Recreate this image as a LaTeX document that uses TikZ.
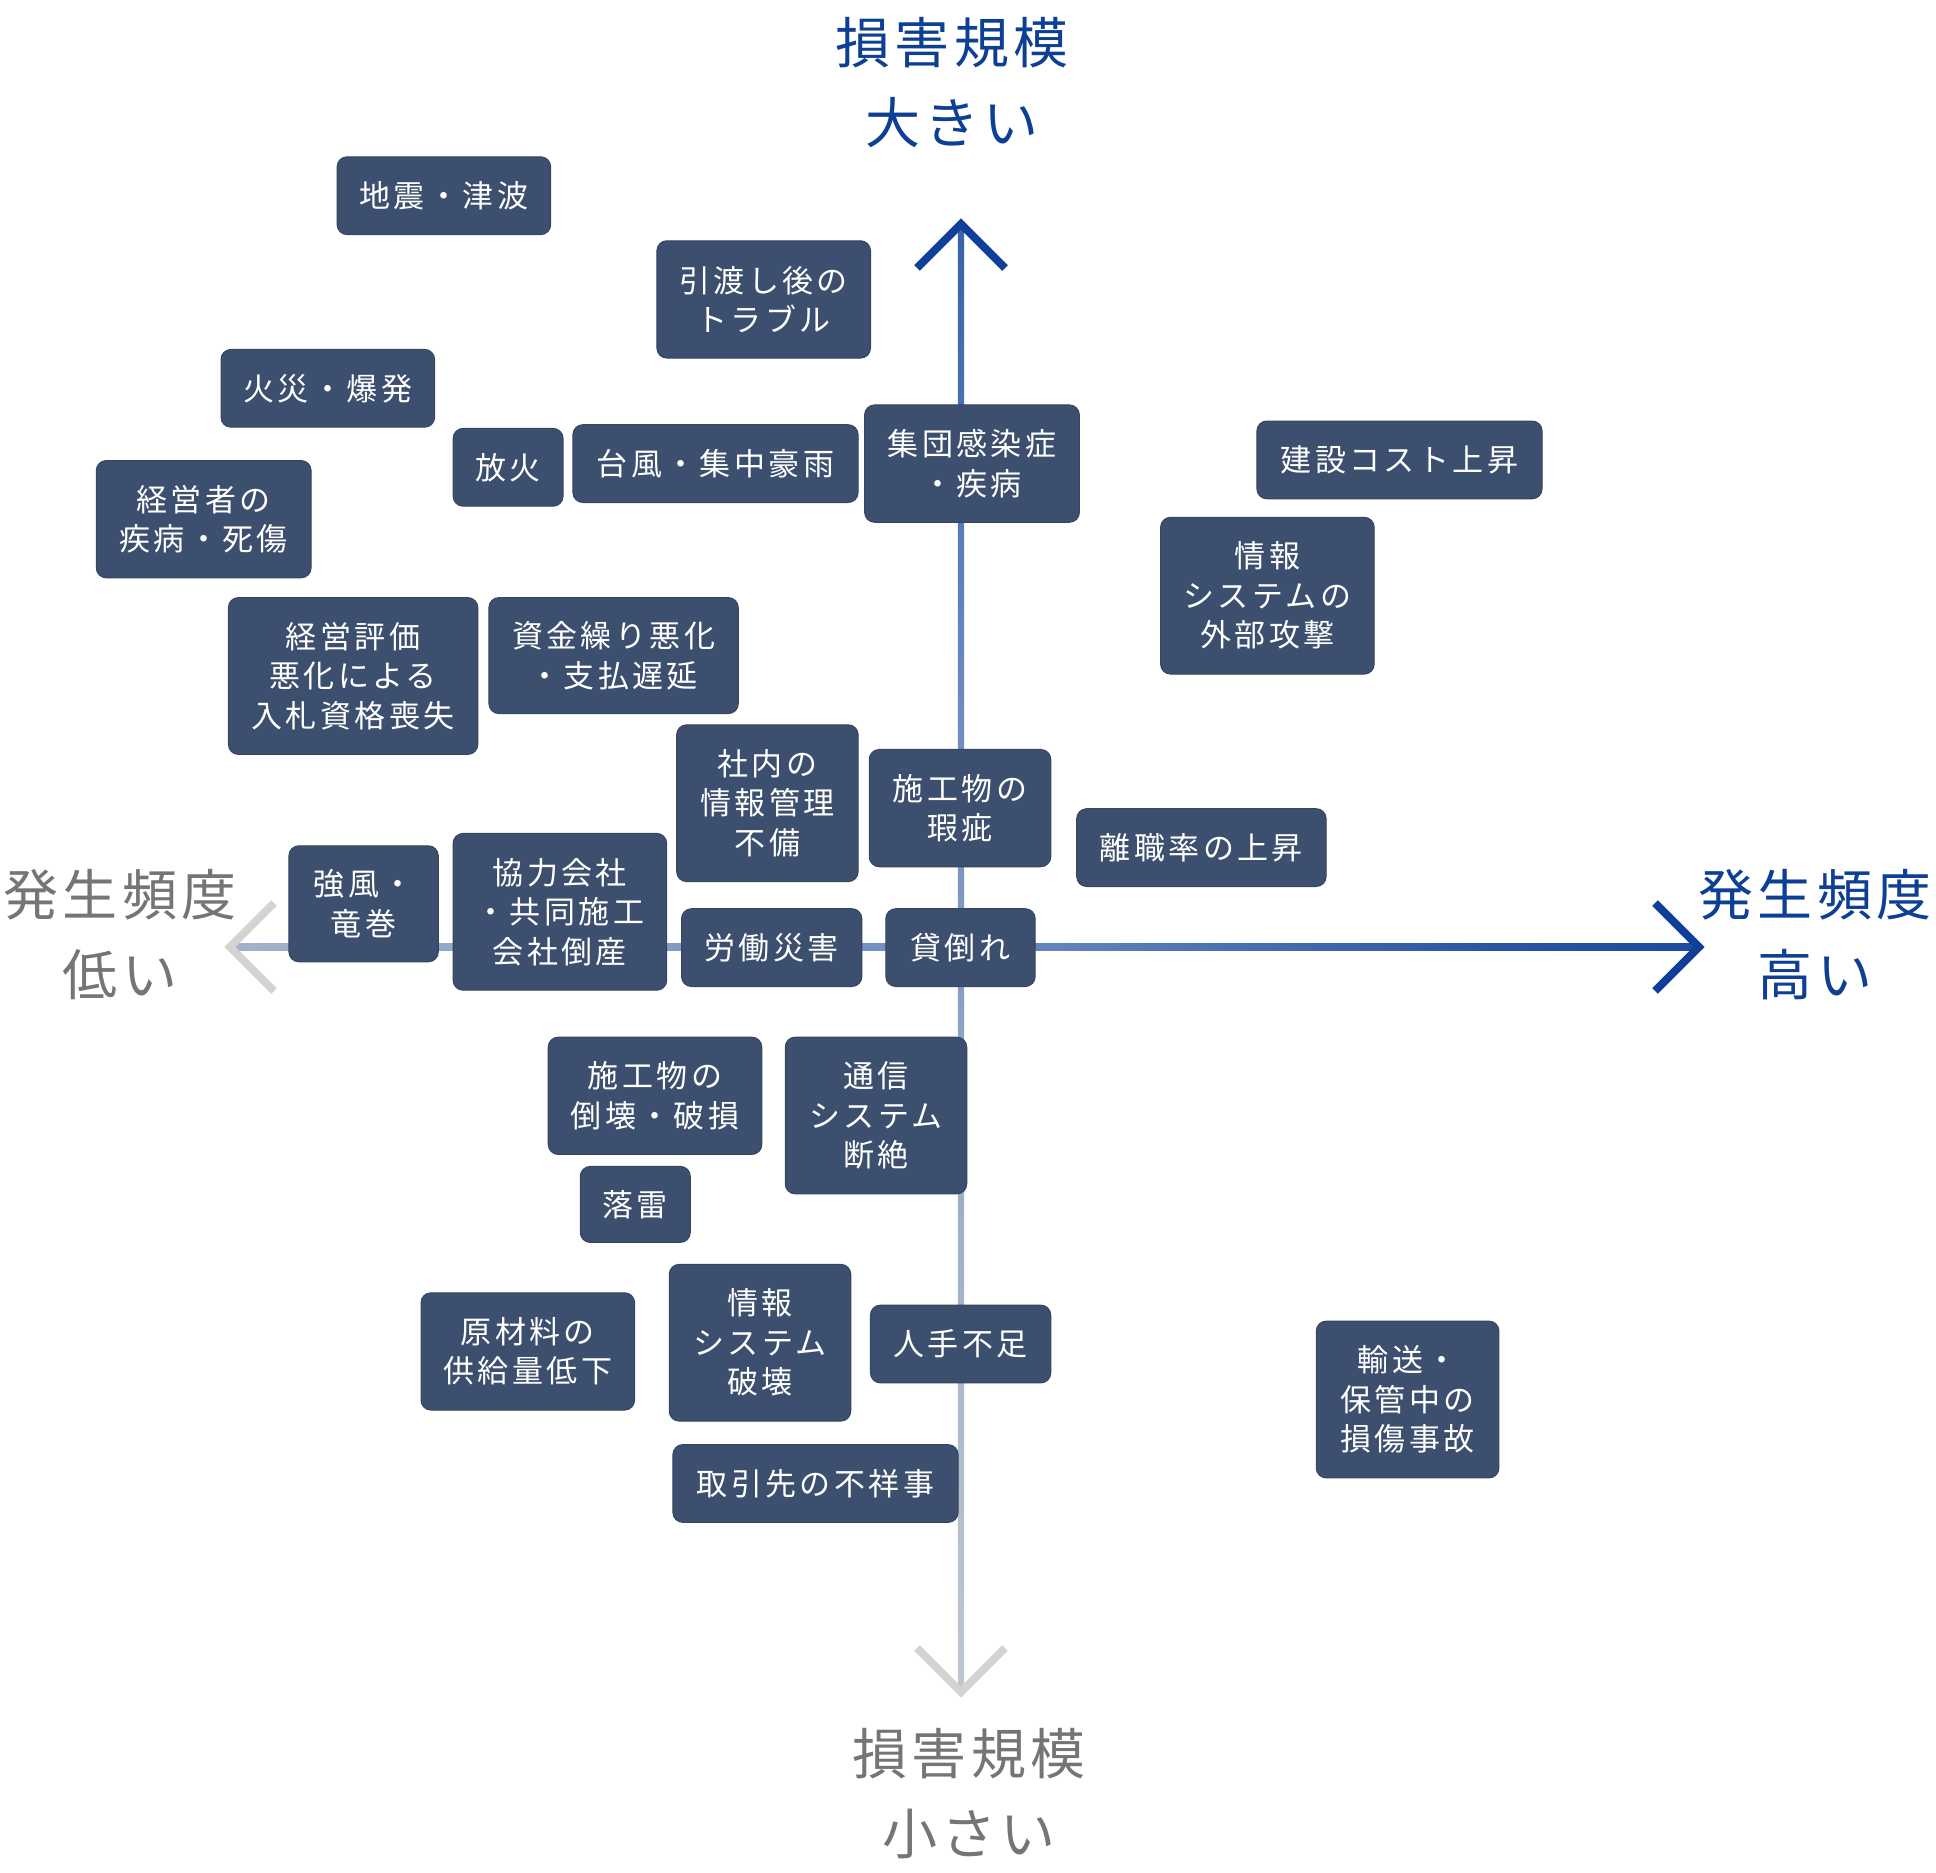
\documentclass[tikz,border=0pt]{standalone}
\usepackage{fontspec}
\usetikzlibrary{calc}
\newfontfamily\boxfont[LetterSpace=11]{Noto Sans CJK JP}
\newfontfamily\axfont[LetterSpace=8]{Noto Sans CJK JP}
\definecolor{boxfill}{HTML}{3D4F6E}
\definecolor{boxedge}{HTML}{34455F}
\definecolor{axblue}{HTML}{0F3F99}
\definecolor{axblue2}{HTML}{2A55A3}
\definecolor{axmid}{HTML}{6D8CC0}
\definecolor{axmid2}{HTML}{A3B2C8}
\definecolor{axgrey}{HTML}{CDD0D5}
\definecolor{arrgrey}{HTML}{D3D3D3}
\definecolor{lblblue}{HTML}{0D3F95}
\definecolor{lblgrey}{HTML}{757575}
\pgfdeclareverticalshading{vaxis}{100bp}{color(0bp)=(axgrey); color(18bp)=(axgrey); color(40bp)=(axmid2); color(58bp)=(axmid); color(80bp)=(axblue2); color(100bp)=(axblue)}
\pgfdeclarehorizontalshading{haxis}{100bp}{color(0bp)=(axgrey); color(25bp)=(axmid2); color(50bp)=(axmid); color(68bp)=(axblue2); color(82bp)=(axblue); color(100bp)=(axblue)}
\begin{document}
\begin{tikzpicture}[x=1pt,y=-1pt,
  rb/.style={fill=boxfill, draw=boxedge, line width=1pt, rounded corners=10pt,
    text=white, align=center, inner sep=0pt,
    font=\boxfont\fontsize{31}{39.5}\selectfont},
  sz/.style 2 args={minimum width=#1pt, minimum height=#2pt},
  axlbl/.style={align=center, inner sep=0pt, font=\axfont\fontsize{55}{80}\selectfont},
  arrhead/.style={line width=8pt, line join=miter, line cap=butt}]
\useasboundingbox (0,0) rectangle (1936,1872);

% axis end points
\coordinate (T) at (961,224);
\coordinate (B) at (961,1692);
\coordinate (L) at (230,947);
\coordinate (R) at (1699,947);
\coordinate (Ta) at (917,268); \coordinate (Tb) at (1005,268);
\coordinate (Ba) at (917,1648); \coordinate (Bb) at (1005,1648);
\coordinate (La) at (274,903); \coordinate (Lb) at (274,991);
\coordinate (Ra) at (1655,903); \coordinate (Rb) at (1655,991);

% axes with gradients
\shade[shading=vaxis] ($(T)+(-3.2,0)$) rectangle ($(B)+(3.2,0)$);
\shade[shading=haxis] ($(L)+(0,-3.2)$) rectangle ($(R)+(0,3.2)$);
\draw[arrhead, axblue] (Ta) -- (T) -- (Tb);
\draw[arrhead, arrgrey] (Ba) -- (B) -- (Bb);
\draw[arrhead, arrgrey] (La) -- (L) -- (Lb);
\draw[arrhead, axblue] (Ra) -- (R) -- (Rb);

% axis labels
\node[axlbl, text=lblblue] (top) at (952,83) {損害規模\\大きい};
\node[axlbl, text=lblgrey] (left) at (120,935) {発生頻度\\低い};
\node[axlbl, text=lblblue] (right) at (1815,935) {発生頻度\\高い};
\node[axlbl, text=lblgrey] (bottom) at (969,1794) {損害規模\\小さい};

% risk boxes
\node[rb, sz={213.6}{77.8}] (n1) at (443.9,195.7) {地震・津波};
\node[rb, sz={213.6}{117.3}] (n2) at (763.7,299.4) {引渡し後の\\トラブル};
\node[rb, sz={213.6}{77.8}] (n3) at (327.8,388.3) {火災・爆発};
\node[rb, sz={109.9}{77.8}] (n4) at (508.1,467.3) {放火};
\node[rb, sz={285.2}{77.8}] (n5) at (715.5,463.6) {台風・集中豪雨};
\node[rb, sz={214.8}{117.3}] (n6) at (972,463.6) {集団感染症\\・疾病};
\node[rb, sz={285.2}{77.8}] (n7) at (1399.5,459.9) {建設コスト上昇};
\node[rb, sz={214.8}{117.3}] (n8) at (203.7,519.2) {経営者の\\疾病・死傷};
\node[rb, sz={213.6}{156.8}] (n9) at (1267.4,595.7) {情報\\システムの\\外部攻撃};
\node[rb, sz={249.4}{156.8}] (n10) at (353.1,676.0) {経営評価\\悪化による\\入札資格喪失};
\node[rb, sz={249.4}{116}] (n11) at (613.6,655.6) {資金繰り悪化\\・支払遅延};
\node[rb, sz={181.5}{156.8}] (n12) at (767.4,803.2) {社内の\\情報管理\\不備};
\node[rb, sz={181.5}{117.3}] (n13) at (960,808.1) {施工物の\\瑕疵};
\node[rb, sz={249.4}{77.8}] (n14) at (1201.4,847.6) {離職率の上昇};
\node[rb, sz={149.4}{116}] (n15) at (363.6,903.8) {強風・\\竜巻};
\node[rb, sz={213.6}{156.8}] (n16) at (559.9,911.8) {協力会社\\・共同施工\\会社倒産};
\node[rb, sz={180.3}{77.8}] (n17) at (771.7,947.6) {労働災害};
\node[rb, sz={149.4}{77.8}] (n18) at (960.5,947.6) {貸倒れ};
\node[rb, sz={213.6}{117.3}] (n19) at (655,1095.8) {施工物の\\倒壊・破損};
\node[rb, sz={181.5}{156.8}] (n20) at (876,1115.5) {通信\\システム\\断絶};
\node[rb, sz={110}{76}] (n21) at (635.3,1204.4) {落雷};
\node[rb, sz={213.6}{117.3}] (n22) at (527.8,1351.4) {原材料の\\供給量低下};
\node[rb, sz={181.5}{156.8}] (n23) at (760,1342.7) {情報\\システム\\破壊};
\node[rb, sz={180.3}{77.8}] (n24) at (960.6,1344) {人手不足};
\node[rb, sz={285.2}{77.8}] (n25) at (815.5,1483.5) {取引先の不祥事};
\node[rb, sz={182.7}{156.8}] (n26) at (1407.6,1399.5) {輸送・\\保管中の\\損傷事故};
\end{tikzpicture}
\end{document}
